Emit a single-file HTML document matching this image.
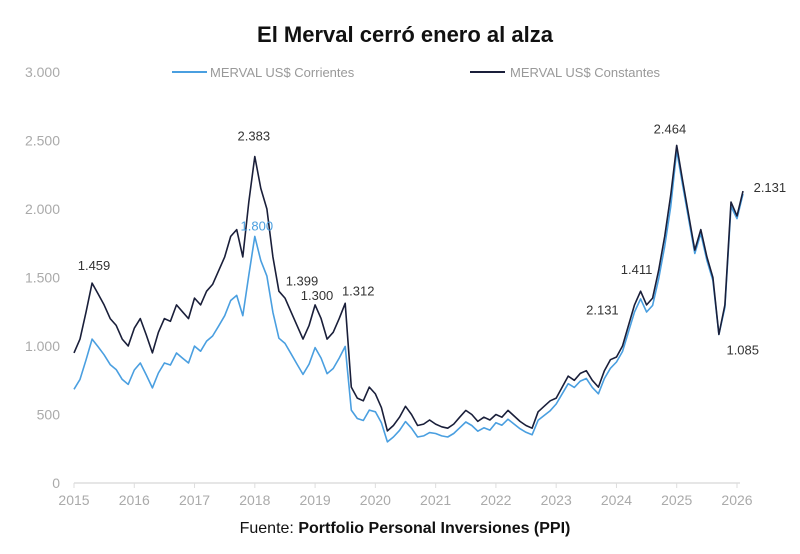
<!DOCTYPE html>
<html><head><meta charset="utf-8"><style>
body{margin:0;background:#fff;width:800px;height:549px;overflow:hidden;font-family:"Liberation Sans",sans-serif}
</style></head><body>
<svg id="chart" width="800" height="549" xmlns="http://www.w3.org/2000/svg">
<text x="405" y="42" text-anchor="middle" font-size="22" font-weight="bold" fill="#111">El Merval cerró enero al alza</text>
<g>
<line x1="172" y1="72" x2="207" y2="72" stroke="#4a9fe0" stroke-width="2"/>
<text x="210" y="77" font-size="13" fill="#999">MERVAL US$ Corrientes</text>
<line x1="470" y1="72" x2="505" y2="72" stroke="#1a1f3a" stroke-width="2"/>
<text x="510" y="77" font-size="13" fill="#999">MERVAL US$ Constantes</text>
</g>
<g id="axes"></g>
<g id="series"></g>
<g id="labels"></g>
<text x="405" y="533" text-anchor="middle" font-size="16" fill="#111">Fuente: <tspan font-weight="bold">Portfolio Personal Inversiones (PPI)</tspan></text>
</svg>
<script>
const yTicks=[0,500,1000,1500,2000,2500,3000];
const yTickLabels=["0","500","1.000","1.500","2.000","2.500","3.000"];
const xYears=[2015,2016,2017,2018,2019,2020,2021,2022,2023,2024,2025,2026];
const startYear=2015, step=0.1;
const constantes=[950,1050,1250,1459,1380,1300,1200,1150,1050,1000,
1130,1200,1080,950,1100,1200,1180,1300,1250,1200,
1350,1300,1400,1450,1550,1650,1800,1850,1650,2050,
2383,2150,2000,1650,1400,1350,1250,1150,1050,1150,
1300,1200,1050,1100,1200,1312,700,620,600,700,
650,550,380,420,480,560,500,420,430,460,
430,410,400,430,480,530,500,450,480,460,
500,480,530,490,450,420,400,520,560,600,
620,700,780,750,800,820,750,700,820,900,
920,1000,1150,1300,1400,1300,1350,1550,1800,2100,
2464,2200,1950,1700,1850,1650,1500,1085,1300,2050,
1950,2131];
const corrientes=[684,756,900,1050,994,936,864,828,756,720,
825,876,788,694,803,876,861,949,912,876,
999,962,1036,1073,1147,1221,1332,1369,1221,1517,
1800,1623,1510,1246,1057,1019,944,868,793,868,
988,912,798,836,912,997,532,471,456,532,
520,440,300,336,384,448,400,336,344,368,
361,344,336,361,403,445,420,378,403,386,
440,422,466,431,396,370,352,458,493,528,
577,651,725,698,744,763,698,651,763,837,
883,960,1104,1248,1344,1248,1296,1488,1728,2016,
2427,2167,1921,1675,1822,1625,1478,1084,1281,2019,
1930,2110];
const annotations=[
 {t:2015.05,v:1459,text:"1.459",c:"#333",dx:17,dy:-13},
 {t:2017.95,v:2383,text:"2.383",c:"#333",dx:2,dy:-16},
 {t:2018.0,v:1800,text:"1.800",c:"#4a9fe0",dx:2,dy:-6},
 {t:2018.55,v:1399,text:"1.399",c:"#333",dx:14,dy:-6},
 {t:2018.8,v:1300,text:"1.300",c:"#333",dx:14,dy:-5},
 {t:2019.55,v:1312,text:"1.312",c:"#333",dx:10,dy:-8},
 {t:2023.85,v:1100,text:"2.131",c:"#333",dx:-5,dy:-18},
 {t:2024.4,v:1400,text:"1.411",c:"#333",dx:-4,dy:-17},
 {t:2024.97,v:2464,text:"2.464",c:"#333",dx:-5,dy:-12},
 {t:2025.83,v:1085,text:"1.085",c:"#333",dx:16,dy:20},
 {t:2026.28,v:2131,text:"2.131",c:"#333",dx:16,dy:1}
];
const NS="http://www.w3.org/2000/svg";
const X0=74,X1=737,Y0=483,Y1=72;
function xs(t){return X0+(t-2015)*(X1-X0)/11;}
function ys(v){return Y0-v*(Y0-Y1)/3000;}
function mk(tag,attrs,parent){const e=document.createElementNS(NS,tag);for(const k in attrs)e.setAttribute(k,attrs[k]);parent.appendChild(e);return e;}
const axes=document.getElementById('axes');
const xl=mk('line',{x1:X0,y1:Y0,x2:X1+3,y2:Y0,stroke:'#ddd','stroke-width':1.5},axes);


yTicks.forEach((v,i)=>{const t=mk('text',{x:60,y:ys(v)+5,'text-anchor':'end','font-size':14,fill:'#aaa'},axes);t.textContent=yTickLabels[i];

});
xYears.forEach(yr=>{const x=xs(yr);const tk=mk('line',{x1:x,y1:Y0,x2:x,y2:Y0+5,stroke:'#ddd'},axes);


const t=mk('text',{x:x,y:Y0+22,'text-anchor':'middle','font-size':14,fill:'#aaa'},axes);t.textContent=yr;

});
const ser=document.getElementById('series');
function path(arr){return arr.map((v,i)=>(i?'L':'M')+xs(startYear+i*step).toFixed(1)+','+ys(v).toFixed(1)).join('');}
const p1=mk('path',{d:path(corrientes),fill:'none',stroke:'#4a9fe0','stroke-width':1.6,'stroke-linejoin':'round'},ser);


const p2=mk('path',{d:path(constantes),fill:'none',stroke:'#1a1f3a','stroke-width':1.6,'stroke-linejoin':'round'},ser);


const lab=document.getElementById('labels');
annotations.forEach(a=>{const t=mk('text',{x:xs(a.t)+a.dx,y:ys(a.v)+a.dy,'text-anchor':'middle','font-size':13,fill:a.c},lab);t.textContent=a.text;

});
</script>
</body></html>
